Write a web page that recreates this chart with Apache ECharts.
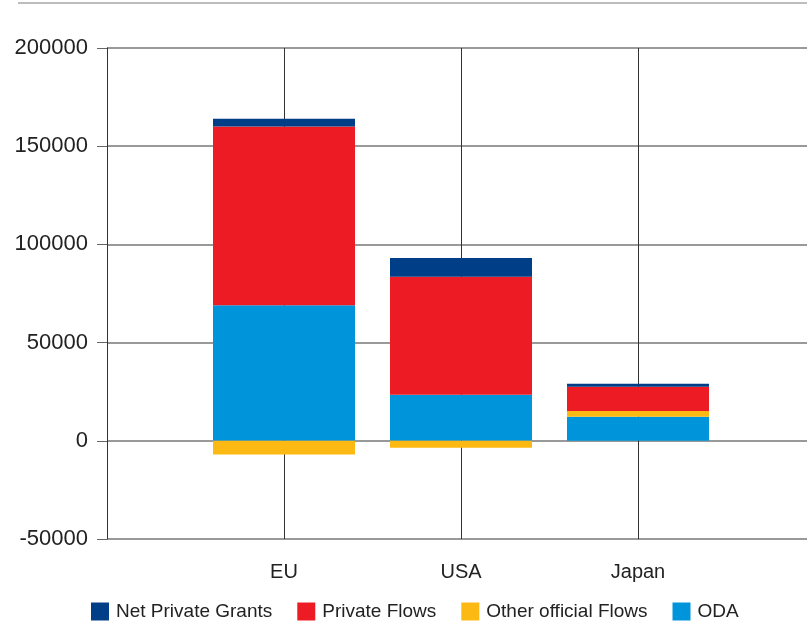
<!DOCTYPE html>
<html>
<head>
<meta charset="utf-8">
<script src="https://cdn.jsdelivr.net/npm/echarts@6/dist/echarts.min.js"></script>
<style>html,body{margin:0;padding:0;background:#fff}#c{width:807px;height:624px}</style>
</head>
<body>
<div id="c"></div>
<script>
const categories = ['', 'EU', 'USA', 'Japan', ''];
const oda = [null, 69000, 23400, 12200, null];
const otherOfficialFlows = [null, -7000, -3600, 3000, null];
const privateFlows = [null, 91000, 60100, 12300, null];
const netPrivateGrants = [null, 4000, 9600, 1500, null];
const legendOrder = ['Net Private Grants', 'Private Flows', 'Other official Flows', 'ODA'];

const chart = echarts.init(document.getElementById('c'));
const font = 'Liberation Sans, Arial, sans-serif';
function bar(name, data, color) {
  return { name, type: 'bar', stack: 'total', data, barWidth: 142, itemStyle: { color }, emphasis: { disabled: true } };
}
chart.setOption({
  animation: false,
  textStyle: { fontFamily: font },
  graphic: [{ type: 'line', shape: { x1: 18, y1: 3, x2: 807, y2: 3 }, style: { stroke: '#bdbdbd', lineWidth: 2 } }],
  legend: {
    data: legendOrder,
    top: 602,
    left: 91,
    padding: 0,
    icon: 'rect',
    itemWidth: 18,
    itemHeight: 18,
    itemGap: 25,
    textStyle: { fontSize: 19, color: '#222', fontFamily: font, padding: [0, 0, 0, 2] }
  },
  grid: { left: 107, right: -8, top: 48, bottom: 85, outerBoundsMode: 'none', containLabel: false },
  xAxis: {
    type: 'category',
    data: categories,
    boundaryGap: false,
    axisLine: { show: false },
    axisTick: { show: true, length: 9, lineStyle: { color: '#333', width: 1 } },
    axisLabel: { fontSize: 20, color: '#222', margin: 23, fontFamily: font },
    splitLine: { show: true, lineStyle: { color: '#333', width: 1 } }
  },
  yAxis: {
    type: 'value',
    min: -50000,
    max: 200000,
    interval: 50000,
    axisLine: { show: true, lineStyle: { color: '#333', width: 1 } },
    axisTick: { show: true, length: 10, lineStyle: { color: '#666', width: 1 } },
    axisLabel: { fontSize: 22, color: '#222', margin: 19, fontFamily: font, formatter: v => String(v) },
    splitLine: { show: true, lineStyle: { color: '#777', width: 1.5 } }
  },
  series: [
    bar('ODA', oda, '#0095da'),
    bar('Other official Flows', otherOfficialFlows, '#fdb913'),
    bar('Private Flows', privateFlows, '#ed1c24'),
    bar('Net Private Grants', netPrivateGrants, '#003f87')
  ]
});
</script>
</body>
</html>
